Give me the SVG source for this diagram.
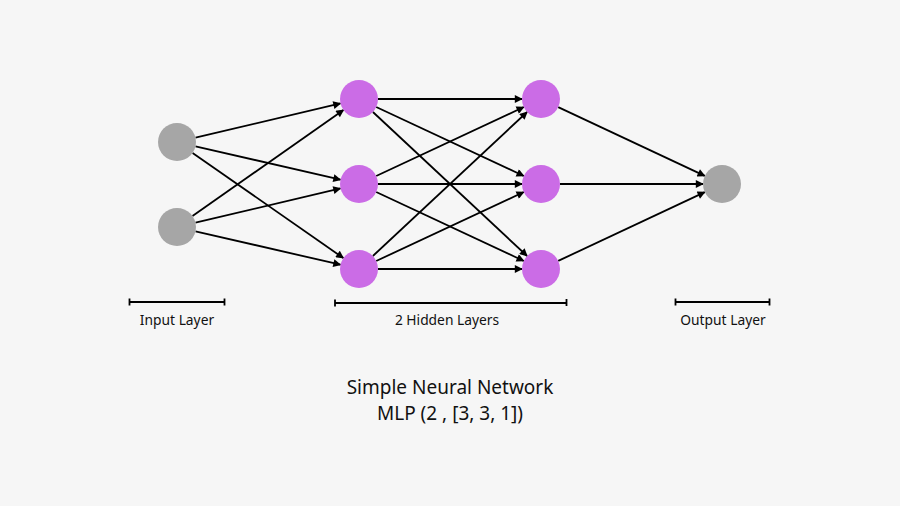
<svg xmlns="http://www.w3.org/2000/svg" width="900" height="506" viewBox="0 0 900 506">
<defs>
<marker id="arr" viewBox="0 0 10 10" refX="9" refY="5" markerWidth="9" markerHeight="8" markerUnits="userSpaceOnUse" orient="auto">
<path d="M0,0 L10,5 L0,10 Z" fill="#000"/>
</marker>
<style>
.bg{fill:#f6f6f6}
.in{fill:#a6a6a6}
.hid{fill:#cb6ce6}
.c line{stroke:#000;stroke-width:1.8;marker-end:url(#arr)}
.br{stroke:#000;stroke-width:1.8;fill:none}
.lbl{font-family:"Noto Sans","Open Sans",sans-serif;font-size:13.8px;fill:#111;text-anchor:middle}
.ttl{font-family:"Noto Sans","Open Sans",sans-serif;font-size:19px;fill:#111;text-anchor:middle}
</style>
</defs>
<rect class="bg" width="900" height="506"/>
<g id="connectors" class="c">
<line x1="195.5" y1="137.6" x2="340.5" y2="103.4"/>
<line x1="195.5" y1="146.3" x2="340.5" y2="179.7"/>
<line x1="192.6" y1="152.9" x2="343.4" y2="258.1"/>
<line x1="192.5" y1="216.1" x2="343.5" y2="109.9"/>
<line x1="195.5" y1="222.6" x2="340.5" y2="188.4"/>
<line x1="195.5" y1="231.3" x2="340.5" y2="264.7"/>
<line x1="378" y1="99" x2="522" y2="99"/>
<line x1="376.2" y1="107" x2="523.8" y2="176"/>
<line x1="372.9" y1="112" x2="527.1" y2="256"/>
<line x1="376.2" y1="176" x2="523.8" y2="107"/>
<line x1="378" y1="184" x2="522" y2="184"/>
<line x1="376.2" y1="192" x2="523.8" y2="261"/>
<line x1="372.9" y1="256" x2="527.1" y2="112"/>
<line x1="376.2" y1="261" x2="523.8" y2="192"/>
<line x1="378" y1="269" x2="522" y2="269"/>
<line x1="558.2" y1="107.1" x2="704.8" y2="175.9"/>
<line x1="560" y1="184" x2="703" y2="184"/>
<line x1="558.2" y1="260.9" x2="704.8" y2="192.1"/>
</g>
<g id="in1"><circle class="in" cx="177" cy="142" r="19"/></g>
<g id="in2"><circle class="in" cx="177" cy="227" r="19"/></g>
<g id="h1a"><circle class="hid" cx="359" cy="99" r="19"/></g>
<g id="h1b"><circle class="hid" cx="359" cy="184" r="19"/></g>
<g id="h1c"><circle class="hid" cx="359" cy="269" r="19"/></g>
<g id="h2a"><circle class="hid" cx="541" cy="99" r="19"/></g>
<g id="h2b"><circle class="hid" cx="541" cy="184" r="19"/></g>
<g id="h2c"><circle class="hid" cx="541" cy="269" r="19"/></g>
<g id="out"><circle class="in" cx="722" cy="184" r="19"/></g>
<g id="bracket-input">
<path class="br" d="M129.5,302 H225 M129.5,298.5 V305.5 M224.5,298.5 V305.5"/>
<text class="lbl" x="177" y="325">Input Layer</text>
</g>
<g id="bracket-hidden">
<path class="br" d="M335,303 H567 M335,299.5 V306.5 M566.5,299 V306"/>
<text class="lbl" x="447" y="325">2 Hidden Layers</text>
</g>
<g id="bracket-output">
<path class="br" d="M675.5,302 H770 M675.5,298.5 V305.5 M769.5,298.5 V305.5"/>
<text class="lbl" x="723" y="325">Output Layer</text>
</g>
<g id="title">
<text class="ttl" x="450" y="394">Simple Neural Network</text>
<text class="ttl" x="450" y="420">MLP (2 , [3, 3, 1])</text>
</g>
</svg>
